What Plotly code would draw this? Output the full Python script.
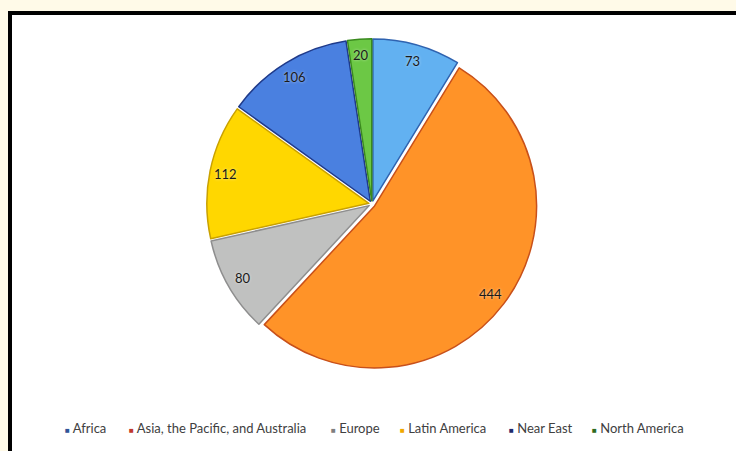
import math
import plotly.graph_objects as go

# ---- data ----
regions = ["Africa", "Asia, the Pacific, and Australia", "Europe",
           "Latin America", "Near East", "North America"]
values = [73, 444, 80, 112, 106, 20]

# ---- styles ----
slice_colors = ["#62B1F1", "#FF9328", "#C0C1C0", "#FFD700", "#4A80E0", "#6CC845"]
edge_colors = ["#2F63B0", "#C8501A", "#8E8E8E", "#C9A100", "#1F3A8A", "#3A8A1E"]
legend_colors = ["#2F5597", "#C0392B", "#7F7F7F", "#F0A800", "#1F2A6B", "#2E6B1F"]
legend_widths = [19, 157, 24, 64, 38, 0]   # per-entry spacing in px (0 = auto)

W, H = 736, 451
PULL = 0.02
R_TARGET = 162
CX, CY = 372, 204
half = R_TARGET * (1 + PULL)
dom_x = [(CX - half) / W, (CX + half) / W]
dom_y = [1 - (CY + half) / H, 1 - (CY - half) / H]

fig = go.Figure()
fig.add_trace(go.Pie(
    labels=regions, values=values, sort=False, direction="clockwise",
    rotation=0, pull=[PULL] * len(values),
    marker=dict(colors=slice_colors, line=dict(color=edge_colors, width=1.5)),
    textinfo="none", hoverinfo="label+value", showlegend=False,
    domain=dict(x=dom_x, y=dom_y),
))

# legend entries: small coloured square glyph + name
for name, c, lw in zip(regions, legend_colors, legend_widths):
    kw = dict(legendwidth=lw) if lw else {}
    fig.add_trace(go.Scatter(
        x=[None], y=[None], mode="markers",
        name=f'<span style="color:{c};font-size:8px">■</span> {name}',
        marker=dict(symbol="square", size=0, color="rgba(0,0,0,0)",
                    line=dict(width=0, color="rgba(0,0,0,0)")), **kw,
    ))

# data labels near the outer end of each slice
bw = (dom_x[1] - dom_x[0]) * W
bh = (dom_y[1] - dom_y[0]) * H
r_px = min(bw, bh) / (2 + 2 * PULL)
cx = (dom_x[0] + dom_x[1]) / 2 * W
cy = (dom_y[0] + dom_y[1]) / 2 * H
total = sum(values)
cum = 0
annotations = []
for v in values:
    mid = (cum + v / 2) / total * 2 * math.pi
    cum += v
    rr = r_px * 0.92
    px = cx + rr * math.sin(mid)
    py = cy + rr * math.cos(mid)
    annotations.append(dict(
        x=px / W, y=py / H, xref="paper", yref="paper", text=str(v),
        showarrow=False, xanchor="center", yanchor="middle",
        font=dict(size=13, color="#1A1A1A", family="Lato, sans-serif",
                  shadow="0px 0px 3px rgba(255,255,255,0.6)"),
    ))

fig.update_layout(
    width=W, height=H,
    margin=dict(l=0, r=0, t=0, b=0),
    paper_bgcolor="#FFFAE8",
    plot_bgcolor="rgba(0,0,0,0)",
    xaxis=dict(visible=False), yaxis=dict(visible=False),
    shapes=[dict(type="rect", xref="paper", yref="paper",
                 x0=10 / W, x1=1.05, y0=-0.05, y1=1 - 13 / H,
                 line=dict(color="#000000", width=4), fillcolor="#FFFFFF",
                 layer="below")],
    annotations=annotations,
    legend=dict(orientation="h", x=25 / W, xanchor="left", y=1 - 428 / H,
                yanchor="middle", itemwidth=30, bgcolor="rgba(0,0,0,0)",
                font=dict(size=13, color="#404040", family="Lato, sans-serif")),
    showlegend=True,
)

fig.write_html("out.html")
